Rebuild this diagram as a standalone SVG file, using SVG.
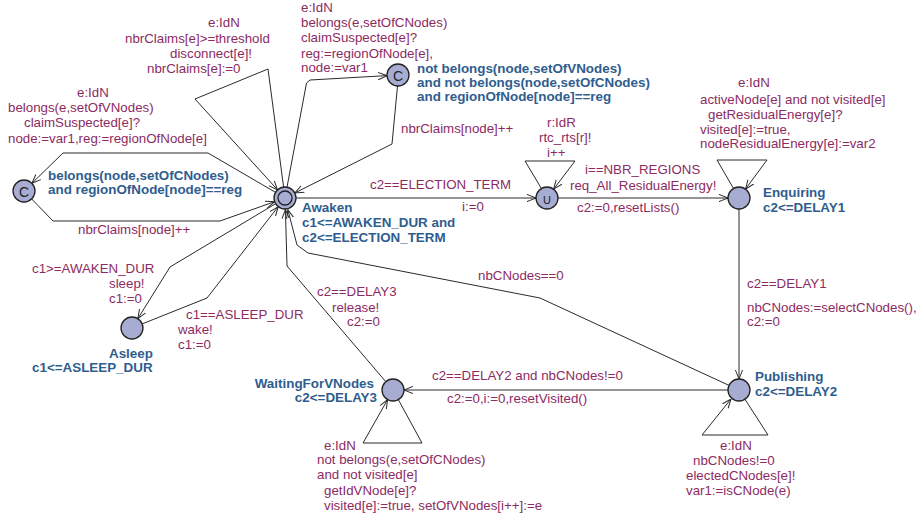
<svg xmlns="http://www.w3.org/2000/svg" width="918" height="520" viewBox="0 0 918 520">
<style>
.bg{fill:#ffffff}
.loc{fill:#a7acd2;stroke:#222;stroke-width:1.3}
.e{fill:none;stroke:#2a2a2a;stroke-width:1;marker-end:url(#arr)}
.l{font-family:"Liberation Sans",Arial,sans-serif;font-size:13.3px;fill:#8c2b62}
.n{font-family:"Liberation Sans",Arial,sans-serif;font-size:13.4px;font-weight:bold;fill:#2f5d8e}
.sym{font-family:"Liberation Sans",Arial,sans-serif;font-size:14px;fill:#222;text-anchor:middle}
</style>
<defs>
<marker id="arr" viewBox="0 0 10 10" refX="10" refY="5" markerWidth="9" markerHeight="9" markerUnits="userSpaceOnUse" orient="auto">
<path d="M0,1 L10,5 L0,9" fill="none" stroke="#2a2a2a" stroke-width="1.1"/>
</marker>
</defs>
<rect class="bg" x="0" y="0" width="918" height="520"/>

<g id="connectors">
 <g id="e-disconnect">
  <path class="e" d="M283.6,187.1 L268,69 L195,99 L277.6,189.9"/>
  <text class="l" x="208" y="27">e:IdN</text>
  <text class="l" x="125" y="42.5">nbrClaims[e]&gt;=threshold</text>
  <text class="l" x="170" y="57.5">disconnect[e]!</text>
  <text class="l" x="147" y="72.7">nbrClaims[e]:=0</text>
 </g>
 <g id="e-awaken-c2">
  <path class="e" d="M287,187.2 L306.5,83 L310,80 L387,75.6"/>
  <text class="l" x="301" y="12">e:IdN</text>
  <text class="l" x="301" y="27">belongs(e,setOfCNodes)</text>
  <text class="l" x="301" y="42">claimSuspected[e]?</text>
  <text class="l" x="301" y="57.5">reg:=regionOfNode[e],</text>
  <text class="l" x="301" y="72">node:=var1</text>
 </g>
 <g id="e-c2-awaken">
  <path class="e" d="M397.5,86 L392,144 L294.8,193"/>
  <text class="l" x="401" y="133">nbrClaims[node]++</text>
 </g>
 <g id="e-awaken-c1">
  <path class="e" d="M275.6,192.4 L208,153 L63,153 L31.9,183.3"/>
  <text class="l" x="77" y="97">e:IdN</text>
  <text class="l" x="8" y="112">belongs(e,setOfVNodes)</text>
  <text class="l" x="24" y="127">claimSuspected[e]?</text>
  <text class="l" x="8" y="142.7">node:=var1,reg:=regionOfNode[e]</text>
 </g>
 <g id="e-c1-awaken">
  <path class="e" d="M31.6,198.9 L53,221 L220,221 L274.6,201.7"/>
  <text class="l" x="78" y="234">nbrClaims[node]++</text>
 </g>
 <g id="e-awaken-u">
  <path class="e" d="M296,198 L536,198"/>
  <text class="l" x="370" y="188.5">c2==ELECTION_TERM</text>
  <text class="l" x="462" y="211">i:=0</text>
 </g>
 <g id="e-u-loop">
  <path class="e" d="M541.4,188.5 L525,161 L575,161 L553.6,189.2"/>
  <text class="l" x="547" y="127">r:IdR</text>
  <text class="l" x="539" y="142">rtc_rts[r]!</text>
  <text class="l" x="547" y="157">i++</text>
 </g>
 <g id="e-u-enquiring">
  <path class="e" d="M558,198 L728,198"/>
  <text class="l" x="585" y="174">i==NBR_REGIONS</text>
  <text class="l" x="570" y="190">req_All_ResidualEnergy!</text>
  <text class="l" x="577" y="212">c2:=0,resetLists()</text>
 </g>
 <g id="e-enquiring-loop">
  <path class="e" d="M733.5,188.5 L717,160 L767,160 L745.5,189.1"/>
  <text class="l" x="738" y="87">e:IdN</text>
  <text class="l" x="700" y="104">activeNode[e] and not visited[e]</text>
  <text class="l" x="708" y="119">getResidualEnergy[e]?</text>
  <text class="l" x="700" y="134">visited[e]:=true,</text>
  <text class="l" x="700" y="148">nodeResidualEnergy[e]:=var2</text>
 </g>
 <g id="e-enquiring-publishing">
  <path class="e" d="M739,209 L739,379"/>
  <text class="l" x="747" y="288">c2==DELAY1</text>
  <text class="l" x="747" y="312">nbCNodes:=selectCNodes(),</text>
  <text class="l" x="747" y="326">c2:=0</text>
 </g>
 <g id="e-publishing-awaken">
  <path class="e" d="M729,385.4 L540,298 L308,253 L297,245 L287.8,209.6"/>
  <text class="l" x="478" y="280">nbCNodes==0</text>
 </g>
 <g id="e-publishing-loop">
  <path class="e" d="M745,399.3 L768,435 L702,435 L731,399"/>
  <text class="l" x="720" y="450">e:IdN</text>
  <text class="l" x="693" y="465">nbCNodes!=0</text>
  <text class="l" x="686" y="480">electedCNodes[e]!</text>
  <text class="l" x="686" y="495">var1:=isCNode(e)</text>
 </g>
 <g id="e-publishing-waiting">
  <path class="e" d="M728,390 L404,390"/>
  <text class="l" x="432" y="380">c2==DELAY2 and nbCNodes!=0</text>
  <text class="l" x="447" y="403">c2:=0,i:=0,resetVisited()</text>
 </g>
 <g id="e-waiting-loop">
  <path class="e" d="M398.3,399.6 L422,443 L363,443 L387.6,399.6"/>
  <text class="l" x="324" y="449.5">e:IdN</text>
  <text class="l" x="317" y="464">not belongs(e,setOfCNodes)</text>
  <text class="l" x="317" y="478.5">and not visited[e]</text>
  <text class="l" x="324" y="495">getIdVNode[e]?</text>
  <text class="l" x="324" y="510">visited[e]:=true, setOfVNodes[i++]:=e</text>
 </g>
 <g id="e-waiting-awaken">
  <path class="e" d="M385.8,381.7 L287,266 L285.4,209.5"/>
  <text class="l" x="317" y="296">c2==DELAY3</text>
  <text class="l" x="332" y="311.5">release!</text>
  <text class="l" x="347" y="326">c2:=0</text>
 </g>
 <g id="e-awaken-asleep">
  <path class="e" d="M275.6,203.7 L170,267 L137.8,318.7"/>
  <text class="l" x="32" y="273">c1&gt;=AWAKEN_DUR</text>
  <text class="l" x="109" y="288">sleep!</text>
  <text class="l" x="109" y="303">c1:=0</text>
 </g>
 <g id="e-asleep-awaken">
  <path class="e" d="M142.2,323.9 L207,298 L278.2,206.7"/>
  <text class="l" x="186" y="319">c1==ASLEEP_DUR</text>
  <text class="l" x="178" y="333.5">wake!</text>
  <text class="l" x="178" y="348.5">c1:=0</text>
 </g>
</g>

<g id="node-awaken">
 <circle class="loc" cx="285" cy="198" r="11"/>
 <circle class="loc" cx="285" cy="198" r="7"/>
 <text class="n" x="302" y="212">Awaken</text>
 <text class="n" x="302" y="227">c1&lt;=AWAKEN_DUR and</text>
 <text class="n" x="302" y="241.5">c2&lt;=ELECTION_TERM</text>
</g>
<g id="node-committed-left">
 <circle class="loc" cx="24" cy="191" r="11"/>
 <text class="sym" x="24" y="196.5">C</text>
 <text class="n" x="48" y="180">belongs(node,setOfCNodes)</text>
 <text class="n" x="48" y="194">and regionOfNode[node]==reg</text>
</g>
<g id="node-committed-top">
 <circle class="loc" cx="398" cy="75" r="11"/>
 <text class="sym" x="398" y="80.5">C</text>
 <text class="n" x="417" y="73">not belongs(node,setOfVNodes)</text>
 <text class="n" x="417" y="87">and not belongs(node,setOfCNodes)</text>
 <text class="n" x="417" y="101">and regionOfNode[node]==reg</text>
</g>
<g id="node-urgent">
 <circle class="loc" cx="547" cy="198" r="11"/>
 <text class="sym" x="547" y="204" style="font-size:11px">U</text>
</g>
<g id="node-enquiring">
 <circle class="loc" cx="739" cy="198" r="11"/>
 <text class="n" x="763" y="197">Enquiring</text>
 <text class="n" x="763" y="212">c2&lt;=DELAY1</text>
</g>
<g id="node-publishing">
 <circle class="loc" cx="739" cy="390" r="11"/>
 <text class="n" x="755" y="381">Publishing</text>
 <text class="n" x="755" y="396">c2&lt;=DELAY2</text>
</g>
<g id="node-waiting">
 <circle class="loc" cx="393" cy="390" r="11"/>
 <text class="n" x="374" y="387.5" text-anchor="end">WaitingForVNodes</text>
 <text class="n" x="377" y="402" text-anchor="end">c2&lt;=DELAY3</text>
</g>
<g id="node-asleep">
 <circle class="loc" cx="132" cy="328" r="11"/>
 <text class="n" x="109" y="357.5">Asleep</text>
 <text class="n" x="32" y="372">c1&lt;=ASLEEP_DUR</text>
</g>
</svg>
